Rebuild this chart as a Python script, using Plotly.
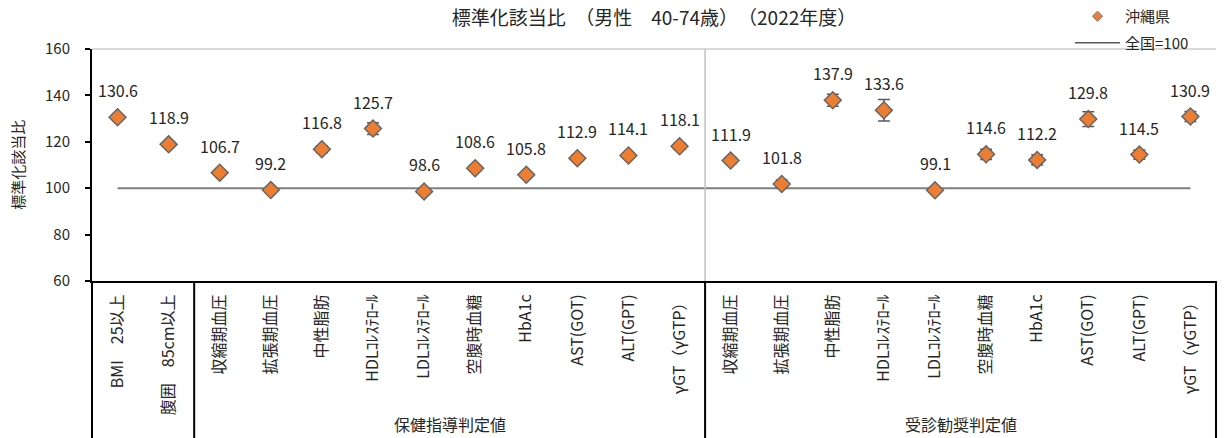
import plotly.graph_objects as go

# ---- data ----
labels = ["BMI　25以上", "腹囲　85cm以上",
          "収縮期血圧", "拡張期血圧", "中性脂肪", "HDLｺﾚｽﾃﾛｰﾙ", "LDLｺﾚｽﾃﾛｰﾙ",
          "空腹時血糖", "HbA1c", "AST(GOT)", "ALT(GPT)", "γGT（γGTP）",
          "収縮期血圧", "拡張期血圧", "中性脂肪", "HDLｺﾚｽﾃﾛｰﾙ", "LDLｺﾚｽﾃﾛｰﾙ",
          "空腹時血糖", "HbA1c", "AST(GOT)", "ALT(GPT)", "γGT（γGTP）"]
values = [130.6, 118.9,
          106.7, 99.2, 116.8, 125.7, 98.6, 108.6, 105.8, 112.9, 114.1, 118.1,
          111.9, 101.8, 137.9, 133.6, 99.1, 114.6, 112.2, 129.8, 114.5, 130.9]
errors = [0.8, 0.9,
          0.8, 0.9, 1.5, 2.5, 0.8, 1.2, 1.0, 1.3, 1.2, 1.4,
          1.3, 1.7, 2.6, 4.6, 1.2, 2.2, 2.2, 3.2, 2.0, 2.2]
groups = [("", 0, 1), ("保健指導判定値", 2, 11), ("受診勧奨判定値", 12, 21)]
national = 100
title = "標準化該当比　（男性　40-74歳）　（2022年度）"
ytitle = "標準化該当比"

FONT = "Noto Sans CJK JP"
xs = list(range(len(labels)))

fig = go.Figure()

# national reference line
fig.add_trace(go.Scatter(
    x=[xs[0], xs[-1]], y=[national, national], mode="lines",
    line=dict(color="#7f7f7f", width=2), name="全国=100",
    showlegend=False, hoverinfo="skip"))

# main points
fig.add_trace(go.Scatter(
    x=xs, y=values, mode="markers", name="沖縄県", showlegend=False,
    marker=dict(symbol="diamond", size=13, color="#ED7D31",
                line=dict(color="#666666", width=1.5)),
    error_y=dict(type="data", array=errors, visible=True,
                 color="#595959", thickness=1.5, width=6)))

# legend-only entries
fig.add_trace(go.Scatter(
    x=[None], y=[None], mode="markers", name="沖縄県", legendgroup="a",
    marker=dict(symbol="diamond", size=8, color="#ED7D31",
                line=dict(color="#888888", width=1))))
fig.add_trace(go.Scatter(
    x=[None], y=[None], mode="lines", name="全国=100", legendgroup="b",
    line=dict(color="#595959", width=1.5)))

annotations = []
for x, v in zip(xs, values):
    annotations.append(dict(
        x=x, y=v, xref="x", yref="y", text=f"{v:.1f}", showarrow=False,
        yshift=27, font=dict(family=FONT, size=16, color="#262626")))

for name, a, b in groups:
    if name:
        annotations.append(dict(
            x=(a + b) / 2, y=-0.615, xref="x", yref="paper", text=name,
            showarrow=False, yanchor="middle",
            font=dict(family=FONT, size=16, color="#262626")))

annotations.append(dict(
    x=-0.067, y=0.5, xref="paper", yref="paper", text=ytitle, textangle=-90,
    showarrow=False, xanchor="center", yanchor="middle",
    font=dict(family=FONT, size=15, color="#262626")))

shapes = []
# top border line (light gray)
shapes.append(dict(type="line", xref="paper", yref="paper", x0=0, x1=1, y0=1, y1=1,
                   line=dict(color="#d9d9d9", width=2)))
# group dividers
bottom = -0.70
for i, (name, a, b) in enumerate(groups):
    if i == 0:
        continue
    xd = a - 0.5
    if i == 2:
        shapes.append(dict(type="line", xref="x", yref="paper", x0=xd, x1=xd,
                           y0=0, y1=1, line=dict(color="#bfbfbf", width=1.5)))
    shapes.append(dict(type="line", xref="x", yref="paper", x0=xd, x1=xd,
                       y0=bottom, y1=0, line=dict(color="black", width=2)))
# left and right outer lines below the axis
shapes.append(dict(type="line", xref="paper", yref="paper", x0=0, x1=0,
                   y0=bottom, y1=0, line=dict(color="black", width=2)))
shapes.append(dict(type="line", xref="paper", yref="paper", x0=1, x1=1,
                   y0=bottom, y1=0, line=dict(color="black", width=2)))

fig.update_layout(
    width=1224, height=438,
    margin=dict(l=92, r=8, t=49, b=157, autoexpand=False),
    paper_bgcolor="white", plot_bgcolor="white",
    font=dict(family=FONT, color="#262626"),
    title=dict(text=title, x=0.5, xref="paper", y=1 - 18 / 438, yanchor="middle",
               font=dict(family=FONT, size=19, color="#262626")),
    xaxis=dict(range=[-0.5, len(labels) - 0.5], tickvals=xs, ticktext=labels,
               tickangle=-90, showgrid=False, zeroline=False, automargin=False,
               showline=True, linecolor="black", linewidth=2, ticks="",
               ticklabelstandoff=5,
               tickfont=dict(family=FONT, size=16, color="#262626")),
    yaxis=dict(range=[60, 160], dtick=20, showgrid=False, zeroline=False,
               automargin=False,
               showline=True, linecolor="black", linewidth=2,
               ticks="outside", ticklen=5, tickwidth=2, tickcolor="black",
               ticklabelstandoff=12,
               tickfont=dict(family=FONT, size=15, color="#262626")),
    legend=dict(x=(1070 - 92) / 1124, xanchor="left", y=1 + 49 / 232, yanchor="top",
                traceorder="grouped", tracegroupgap=4, itemwidth=45,
                font=dict(family=FONT, size=15, color="#262626"),
                bgcolor="rgba(0,0,0,0)"),
    annotations=annotations, shapes=shapes,
)

fig.write_html("out.html", config={"displayModeBar": False},
               post_script="document.body.style.margin='0';")
